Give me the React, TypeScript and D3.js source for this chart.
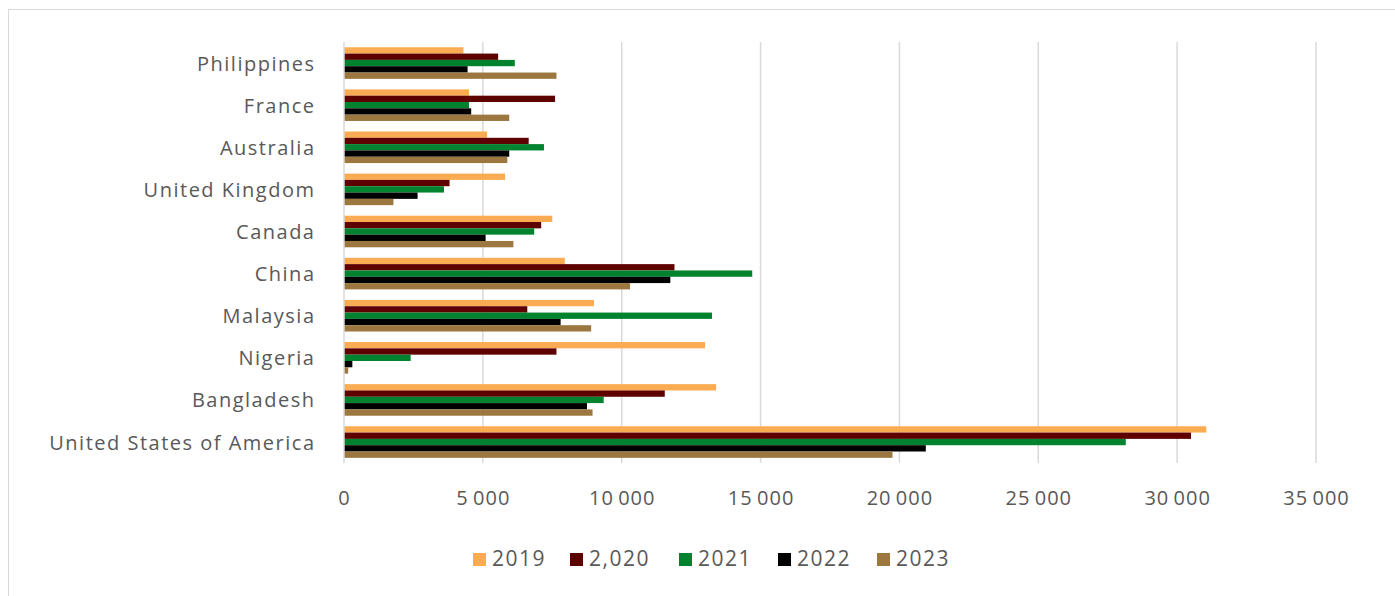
import React from "react";
import * as d3 from "d3";

// Countries, top to bottom as listed on the chart
const countries = [
  "Philippines",
  "France",
  "Australia",
  "United Kingdom",
  "Canada",
  "China",
  "Malaysia",
  "Nigeria",
  "Bangladesh",
  "United States of America",
];

const seriesNames = ["2019", "2,020", "2021", "2022", "2023"];
const seriesColors = ["#FBAC52", "#5E0000", "#00822E", "#000000", "#9C7740"];

// Values per series, in the same order as `countries`
const values2019 = [4300, 4500, 5150, 5800, 7500, 7950, 9000, 13000, 13400, 31050];
const values2020 = [5550, 7600, 6650, 3800, 7100, 11900, 6600, 7650, 11550, 30500];
const values2021 = [6150, 4500, 7200, 3600, 6850, 14700, 13250, 2400, 9350, 28150];
const values2022 = [4450, 4580, 5950, 2650, 5100, 11750, 7800, 300, 8750, 20950];
const values2023 = [7650, 5950, 5880, 1780, 6100, 10300, 8900, 150, 8950, 19750];

const seriesValues = [values2019, values2020, values2021, values2022, values2023];

const xTicks = [0, 5000, 10000, 15000, 20000, 25000, 30000, 35000];

const W = 1395;
const H = 596;
const plotLeft = 344;
const plotRight = 1316;
const plotTop = 42;
const plotBottom = 463.1;

const FONT = "'Open Sans', 'Noto Sans', sans-serif";
const TEXT = "#595959";
const GRID = "#d9d9d9";

const fmt = (v: number) => {
  const s = d3.format(",")(v);
  return s.replace(/,/g, "\u2009");
};

export default function App() {
  const x = d3.scaleLinear().domain([0, 35000]).range([plotLeft, plotRight]);
  const y = d3
    .scaleBand<string>()
    .domain(countries)
    .range([plotTop, plotBottom])
    .paddingInner(0.25)
    .paddingOuter(0.125);
  const inner = d3
    .scaleBand<string>()
    .domain(seriesNames)
    .range([0, y.bandwidth()])
    .padding(0);

  // legend layout
  const legendItemX = [473, 570, 679, 778, 877];
  const legendY = 559;

  return (
    <svg
      width={W}
      height={H}
      style={{ position: "absolute", left: 0, top: 0, display: "block", background: "#fff" }}
    >
      <rect x={8.5} y={9.5} width={1400} height={600} fill="#fff" stroke={GRID} strokeWidth={1} />

      {/* vertical gridlines */}
      {xTicks.slice(1).map((t) => (
        <line
          key={"g" + t}
          x1={x(t)}
          x2={x(t)}
          y1={plotTop}
          y2={plotBottom}
          stroke={GRID}
          strokeWidth={1.5}
        />
      ))}

      {/* bars */}
      {seriesNames.map((s, si) =>
        countries.map((c, ci) => (
          <rect
            key={s + c}
            x={x(0)}
            y={(y(c) as number) + (inner(s) as number)}
            width={x(seriesValues[si][ci]) - x(0)}
            height={inner.bandwidth()}
            fill={seriesColors[si]}
          />
        ))
      )}

      {/* category axis line */}
      <line x1={x(0)} x2={x(0)} y1={plotTop} y2={plotBottom} stroke={GRID} strokeWidth={1.5} />

      {/* category labels */}
      {countries.map((c) => (
        <text
          key={"l" + c}
          x={315.5}
          y={(y(c) as number) + y.bandwidth() / 2 + 7.5}
          textAnchor="end"
          fontFamily={FONT}
          fontSize={20}
          letterSpacing={1.5}
          fill={TEXT}
        >
          {c}
        </text>
      ))}

      {/* value tick labels */}
      {xTicks.map((t) => (
        <text
          key={"t" + t}
          x={x(t) + 0.5}
          y={505}
          textAnchor="middle"
          fontFamily={FONT}
          fontSize={20}
          letterSpacing={1}
          fill={TEXT}
        >
          {fmt(t)}
        </text>
      ))}

      {/* legend */}
      {seriesNames.map((s, i) => (
        <g key={"lg" + s}>
          <rect x={legendItemX[i]} y={legendY - 6} width={13} height={13} fill={seriesColors[i]} />
          <text
            x={legendItemX[i] + 19}
            y={legendY + 7}
            fontFamily={FONT}
            fontSize={21}
            letterSpacing={1.5}
            fill={TEXT}
          >
            {s}
          </text>
        </g>
      ))}
    </svg>
  );
}
